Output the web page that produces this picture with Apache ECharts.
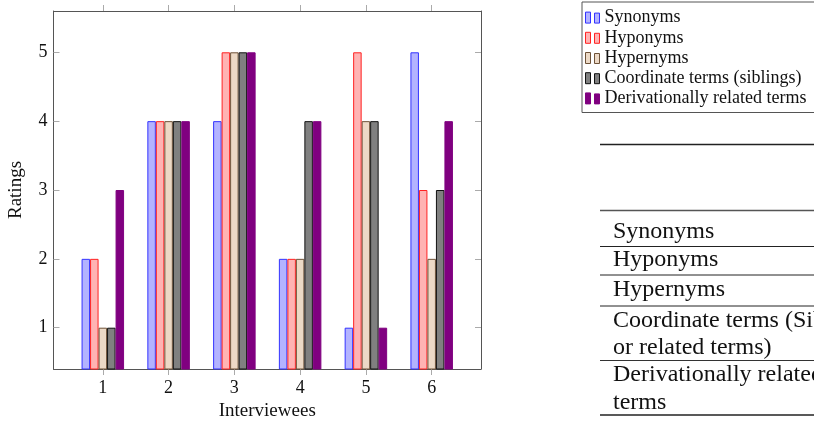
<!DOCTYPE html>
<html>
<head>
<meta charset="utf-8">
<script src="https://cdn.jsdelivr.net/npm/echarts@6/dist/echarts.min.js"></script>
<style>html,body{margin:0;padding:0;background:#fff;}#c{width:814px;height:423px;}</style>
</head>
<body>
<div id="c"></div>
<script>
const interviewees = [1, 2, 3, 4, 5, 6];
const yTicks = [1, 2, 3, 4, 5];
const seriesNames = ['Synonyms', 'Hyponyms', 'Hypernyms', 'Coordinate terms (siblings)', 'Derivationally related terms'];
const synonyms = [2, 4, 4, 2, 1, 5];
const hyponyms = [2, 4, 5, 2, 5, 3];
const hypernyms = [1, 4, 5, 2, 4, 2];
const coordinate = [1, 4, 5, 4, 4, 3];
const derivational = [3, 4, 5, 4, 1, 4];
const tableRows = ['Synonyms', 'Hyponyms', 'Hypernyms', 'Coordinate terms (Siblings', 'or related terms)', 'Derivationally related', 'terms'];

const values = [synonyms, hyponyms, hypernyms, coordinate, derivational];
const fills = ['#b3b3ff', '#ffb3b3', '#ecd9c6', '#808080', '#800080'];
const borders = ['#3333ff', '#ff2222', '#6e5238', '#111111', '#800080'];

const FONT = '"Liberation Serif", "Times New Roman", serif';
const frameColor = '#555';
const tickColor = '#aaa';

const chart = echarts.init(document.getElementById('c'), null, {renderer: 'canvas'});

const series = values.map((arr, i) => ({
  name: seriesNames[i],
  type: 'bar',
  xAxisIndex: 0,
  yAxisIndex: 0,
  barWidth: 8.5,
  barGap: '0%',
  clip: true,
  itemStyle: {color: fills[i], borderColor: borders[i], borderWidth: 1},
  emphasis: {disabled: true},
  data: arr.map((v, j) => [interviewees[j], v])
}));

const rowY = [231.5, 260, 289.5, 320.5, 347.5, 374.5, 402.5];
const lineY = [144.5, 210.5, 246.5, 275, 306, 360.5, 415];
const lineW = [1.6, 1.4, 1, 1, 1, 1, 1.3];
const lineC = ['#222', '#555', '#222', '#222', '#222', '#333', '#222'];
const graphics = [];
lineY.forEach((y, i) => {
  graphics.push({type: 'line', shape: {x1: 600, y1: y, x2: 814, y2: y}, style: {stroke: lineC[i], lineWidth: lineW[i]}, silent: true});
});
tableRows.forEach((t, i) => {
  graphics.push({type: 'text', x: 613, y: rowY[i], style: {text: t, fontFamily: 'Liberation Serif', fontSize: 24, fill: '#111', verticalAlign: 'middle', align: 'left'}, silent: true});
});

const xCommon = {
  type: 'value', min: 0.25, max: 6.75, minInterval: 1, maxInterval: 1,
  splitLine: {show: false},
  axisLine: {show: true, onZero: false, lineStyle: {color: frameColor, width: 1}},
  axisTick: {show: true, inside: false, length: 6, lineStyle: {color: tickColor, width: 1}, customValues: interviewees}
};
const yCommon = {
  type: 'value', min: 0.4, max: 5.6, minInterval: 1, maxInterval: 1,
  splitLine: {show: false},
  axisLine: {show: true, onZero: false, lineStyle: {color: frameColor, width: 1}},
  axisTick: {show: true, inside: true, length: 6, lineStyle: {color: tickColor, width: 1}, customValues: yTicks}
};

chart.setOption({
  animation: false,
  backgroundColor: '#fff',
  grid: {left: 53.5, right: 333, top: 11, bottom: 54, containLabel: false, outerBoundsMode: 'none'},
  xAxis: [
    Object.assign({}, xCommon, {
      position: 'bottom',
      name: 'Interviewees', nameLocation: 'middle', nameGap: 33,
      nameTextStyle: {fontFamily: FONT, fontSize: 19, color: '#111'},
      axisLabel: {show: true, margin: 10, fontFamily: FONT, fontSize: 18, color: '#111', customValues: interviewees}
    }),
    Object.assign({}, xCommon, {position: 'top', axisLabel: {show: false}})
  ],
  yAxis: [
    Object.assign({}, yCommon, {
      position: 'left',
      name: 'Ratings', nameLocation: 'middle', nameGap: 28, nameRotate: 90,
      nameTextStyle: {fontFamily: FONT, fontSize: 19, color: '#111'},
      axisLabel: {show: true, margin: 6, fontFamily: FONT, fontSize: 18, color: '#111', customValues: yTicks}
    }),
    Object.assign({}, yCommon, {position: 'right', axisLabel: {show: false}})
  ],
  legend: {
    show: true,
    orient: 'vertical',
    left: 582, top: 2,
    itemWidth: 14, itemHeight: 11, itemGap: 0,
    padding: [5.5, 30, 4, 3],
    borderColor: '#555', borderWidth: 1, borderRadius: 0,
    backgroundColor: '#fff',
    icon: 'path://M0,0H5V11H0Z M9,1H14V11H9Z',
    itemStyle: {borderWidth: 1},
    selectedMode: false,
    textStyle: {fontFamily: FONT, fontSize: 18, color: '#111', lineHeight: 20.2},
    data: seriesNames
  },
  series: series,
  graphic: graphics
});
</script>
</body>
</html>
